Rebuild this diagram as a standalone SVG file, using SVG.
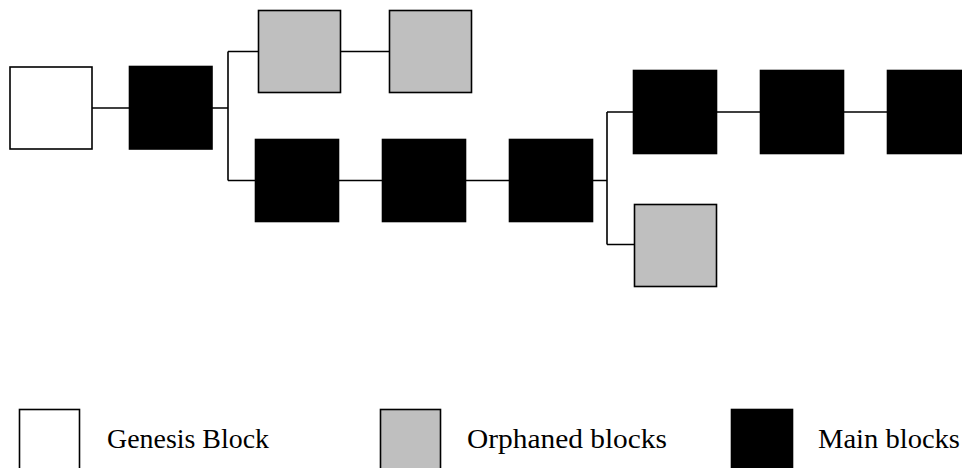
<svg xmlns="http://www.w3.org/2000/svg" width="962" height="468" viewBox="0 0 962 468">
<style>
.blk{stroke:#000;stroke-width:1.6}
.gen{fill:#fff}
.orp{fill:#bfbfbf}
.main{fill:#000}
.con{fill:none;stroke:#000;stroke-width:1.6}
.lbl{font-family:"Liberation Serif","Times New Roman",serif;font-size:27px;fill:#000}
</style>
<rect width="962" height="468" fill="#fff"/>
<g id="connectors">
<path class="con" d="M92,108 H129"/>
<path class="con" d="M212,108 H228 M228,51.5 V180.5 M228,51.5 H258 M228,180.5 H255"/>
<path class="con" d="M340,51.5 H389"/>
<path class="con" d="M339,180.5 H382 M466,180.5 H509"/>
<path class="con" d="M593,180.5 H607 M607,112 V244.5 M607,112 H633 M607,244.5 H634"/>
<path class="con" d="M717,112 H760 M844,112 H887"/>
</g>
<g id="genesis"><rect class="blk gen" x="10" y="67" width="82" height="82"/></g>
<g id="main1"><rect class="blk main" x="129.5" y="66.5" width="82.5" height="82.5"/></g>
<g id="orphan1"><rect class="blk orp" x="258.5" y="10.5" width="82" height="82"/></g>
<g id="orphan2"><rect class="blk orp" x="389.5" y="10.5" width="82" height="82"/></g>
<g id="main2"><rect class="blk main" x="255.5" y="139.5" width="83" height="82"/></g>
<g id="main3"><rect class="blk main" x="382.5" y="139.5" width="83" height="82"/></g>
<g id="main4"><rect class="blk main" x="509.5" y="139.5" width="83" height="82"/></g>
<g id="main5"><rect class="blk main" x="633.5" y="70.5" width="83" height="83"/></g>
<g id="main6"><rect class="blk main" x="760.5" y="70.5" width="83" height="83"/></g>
<g id="main7"><rect class="blk main" x="887.5" y="70.5" width="80" height="83"/></g>
<g id="orphan3"><rect class="blk orp" x="634.5" y="204.5" width="82" height="82"/></g>
<g id="legend-genesis">
<rect class="blk gen" x="19.5" y="409.5" width="60" height="65"/>
<text class="lbl" x="107" y="448" textLength="162" lengthAdjust="spacingAndGlyphs">Genesis Block</text>
</g>
<g id="legend-orphan">
<rect class="blk orp" x="380.5" y="409.5" width="60" height="65"/>
<text class="lbl" x="467" y="448" textLength="200" lengthAdjust="spacingAndGlyphs">Orphaned blocks</text>
</g>
<g id="legend-main">
<rect class="blk main" x="731.5" y="409.5" width="61" height="65"/>
<text class="lbl" x="818" y="448" textLength="142" lengthAdjust="spacingAndGlyphs">Main blocks</text>
</g>
</svg>
